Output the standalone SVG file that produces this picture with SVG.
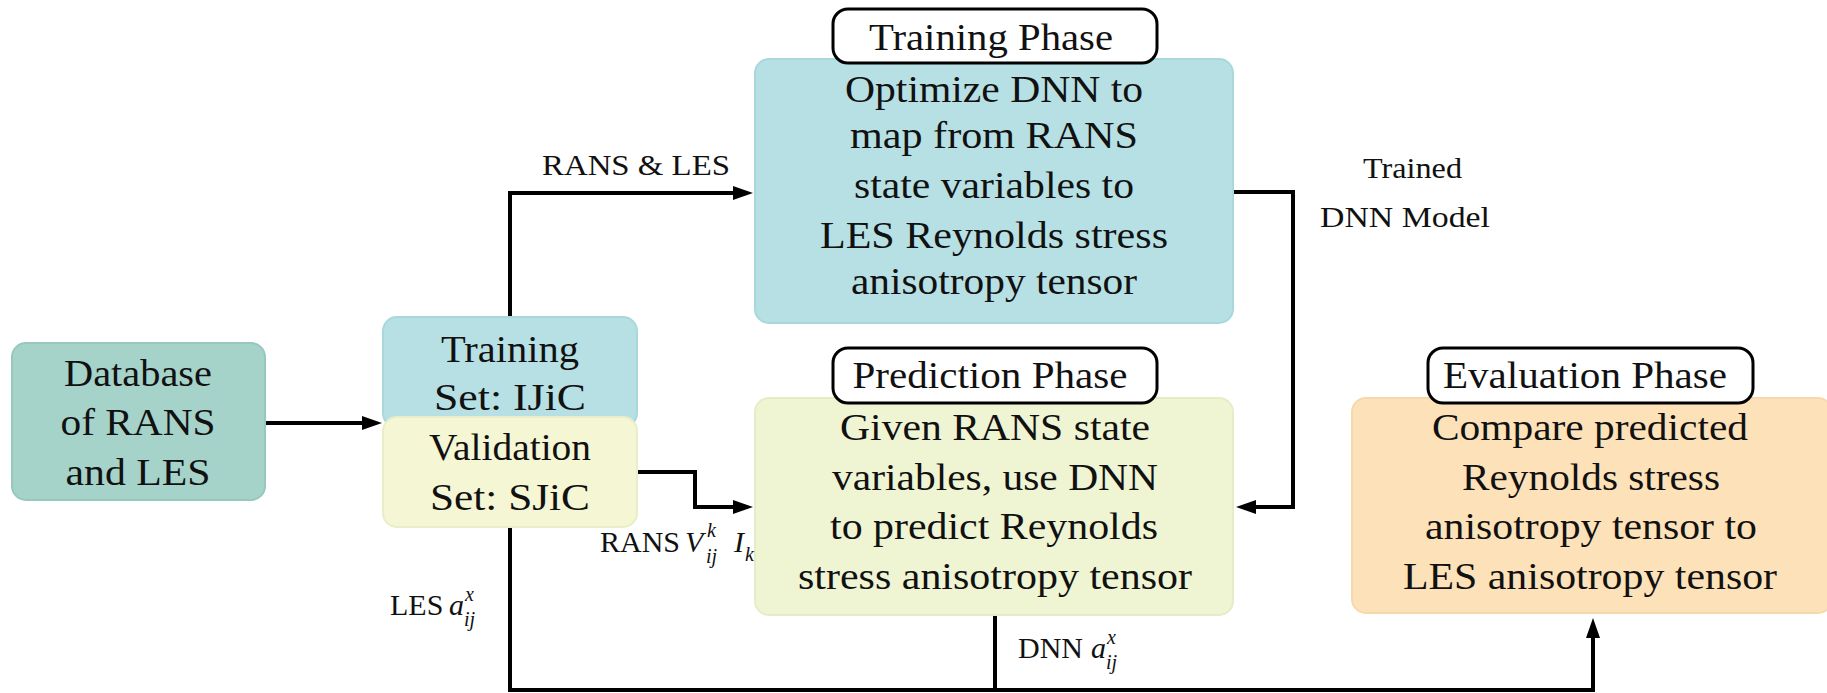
<svg xmlns="http://www.w3.org/2000/svg" width="1827" height="693" viewBox="0 0 1827 693" font-family="'Liberation Serif', 'Times New Roman', Times, serif">
<style>
  text { font-family: 'Liberation Serif', 'Times New Roman', Times, serif; fill: #111; }
  .big { font-size: 38px; }
  .lbl { font-size: 30px; }
  .sm { font-size: 20px; }
  .it { font-style: italic; }
  .phase { fill: #fff; stroke: #000; stroke-width: 3; }
  .conn { fill: none; stroke: #000; stroke-width: 4; }
</style>
<defs>
  <marker id="arr" markerUnits="userSpaceOnUse" markerWidth="22" markerHeight="16" refX="14" refY="7" orient="auto">
    <path d="M0,0 L20,7 L0,14 z" fill="#000"/>
  </marker>
</defs>
<rect width="1827" height="693" fill="#fff"/>

<g id="connectors">
  <path class="conn" d="M265 423 H376" marker-end="url(#arr)"/>
  <path class="conn" d="M510 317 V193 H747" marker-end="url(#arr)"/>
  <path class="conn" d="M1233 192 H1293 V507 H1242" marker-end="url(#arr)"/>
  <path class="conn" d="M637 472 H695 V507 H747" marker-end="url(#arr)"/>
  <path class="conn" d="M510 527 V690 H1593 V624" marker-end="url(#arr)"/>
  <path class="conn" d="M995 615 V690"/>
</g>

<g id="database">
  <rect x="12" y="343" width="253" height="157" rx="14" fill="#a5d3c9" stroke="#97c8bd" stroke-width="2"/>
  <text class="big" x="138" y="386" text-anchor="middle" textLength="148" lengthAdjust="spacingAndGlyphs">Database</text>
  <text class="big" x="138" y="435" text-anchor="middle" textLength="155" lengthAdjust="spacingAndGlyphs">of RANS</text>
  <text class="big" x="138" y="485" text-anchor="middle" textLength="145" lengthAdjust="spacingAndGlyphs">and LES</text>
</g>

<g id="training-set">
  <rect x="383" y="317" width="254" height="110" rx="14" fill="#b6e0e4" stroke="#a9d8dc" stroke-width="2"/>
  <text class="big" x="510" y="362" text-anchor="middle" textLength="138" lengthAdjust="spacingAndGlyphs">Training</text>
  <text class="big" x="510" y="410" text-anchor="middle" textLength="152" lengthAdjust="spacingAndGlyphs">Set:  IJiC</text>
</g>

<g id="validation-set">
  <rect x="383" y="417" width="254" height="110" rx="14" fill="#f4f6d4" stroke="#e9eec6" stroke-width="2"/>
  <text class="big" x="510" y="460" text-anchor="middle" textLength="162" lengthAdjust="spacingAndGlyphs">Validation</text>
  <text class="big" x="510" y="510" text-anchor="middle" textLength="160" lengthAdjust="spacingAndGlyphs">Set:  SJiC</text>
</g>

<g id="training-phase">
  <rect x="755" y="59" width="478" height="264" rx="14" fill="#b6e0e4" stroke="#a9d8dc" stroke-width="2"/>
  <text class="big" x="994" y="102" text-anchor="middle" textLength="298" lengthAdjust="spacingAndGlyphs">Optimize DNN to</text>
  <text class="big" x="994" y="148" text-anchor="middle" textLength="288" lengthAdjust="spacingAndGlyphs">map from RANS</text>
  <text class="big" x="994" y="198" text-anchor="middle" textLength="280" lengthAdjust="spacingAndGlyphs">state variables to</text>
  <text class="big" x="994" y="248" text-anchor="middle" textLength="348" lengthAdjust="spacingAndGlyphs">LES Reynolds stress</text>
  <text class="big" x="994" y="294" text-anchor="middle" textLength="286" lengthAdjust="spacingAndGlyphs">anisotropy tensor</text>
  <rect class="phase" x="833" y="9" width="324" height="54" rx="15"/>
  <text class="big" x="991" y="50" text-anchor="middle" textLength="244" lengthAdjust="spacingAndGlyphs">Training Phase</text>
</g>

<g id="prediction-phase">
  <rect x="755" y="398" width="478" height="217" rx="14" fill="#eff4d3" stroke="#e6edc6" stroke-width="2"/>
  <text class="big" x="995" y="440" text-anchor="middle" textLength="310" lengthAdjust="spacingAndGlyphs">Given RANS state</text>
  <text class="big" x="995" y="490" text-anchor="middle" textLength="326" lengthAdjust="spacingAndGlyphs">variables, use DNN</text>
  <text class="big" x="994" y="539" text-anchor="middle" textLength="328" lengthAdjust="spacingAndGlyphs">to predict Reynolds</text>
  <text class="big" x="995" y="589" text-anchor="middle" textLength="394" lengthAdjust="spacingAndGlyphs">stress anisotropy tensor</text>
  <rect class="phase" x="833" y="348" width="324" height="55" rx="15"/>
  <text class="big" x="990" y="388" text-anchor="middle" textLength="275" lengthAdjust="spacingAndGlyphs">Prediction Phase</text>
</g>

<g id="evaluation-phase">
  <rect x="1352" y="398" width="480" height="215" rx="14" fill="#fde2b9" stroke="#f5d8ab" stroke-width="2"/>
  <text class="big" x="1590" y="440" text-anchor="middle" textLength="316" lengthAdjust="spacingAndGlyphs">Compare predicted</text>
  <text class="big" x="1591" y="490" text-anchor="middle" textLength="258" lengthAdjust="spacingAndGlyphs">Reynolds stress</text>
  <text class="big" x="1591" y="539" text-anchor="middle" textLength="332" lengthAdjust="spacingAndGlyphs">anisotropy tensor to</text>
  <text class="big" x="1590" y="589" text-anchor="middle" textLength="374" lengthAdjust="spacingAndGlyphs">LES anisotropy tensor</text>
  <rect class="phase" x="1428" y="348" width="325" height="55" rx="15"/>
  <text class="big" x="1585" y="388" text-anchor="middle" textLength="284" lengthAdjust="spacingAndGlyphs">Evaluation Phase</text>
</g>

<g id="labels">
  <text class="lbl" x="542" y="175" textLength="188" lengthAdjust="spacingAndGlyphs">RANS &amp; LES</text>
  <text class="lbl" x="1363" y="178" textLength="99" lengthAdjust="spacingAndGlyphs">Trained</text>
  <text class="lbl" x="1320" y="227" textLength="170" lengthAdjust="spacingAndGlyphs">DNN  Model</text>
  <text class="lbl" x="600" y="552">RANS<tspan class="it" x="685">V</tspan><tspan class="sm it" x="707" dy="-15">k</tspan><tspan class="sm it" x="706" dy="26">ij</tspan><tspan class="it" x="734" dy="-11">I</tspan><tspan class="sm it" x="745" dy="9">k</tspan></text>
  <text class="lbl" x="390" y="615">LES<tspan class="it" x="449">a</tspan><tspan class="sm it" x="465" dy="-14">x</tspan><tspan class="sm it" x="464" dy="25">ij</tspan></text>
  <text class="lbl" x="1018" y="658">DNN<tspan class="it" x="1091">a</tspan><tspan class="sm it" x="1107" dy="-14">x</tspan><tspan class="sm it" x="1106" dy="25">ij</tspan></text>
</g>
</svg>
